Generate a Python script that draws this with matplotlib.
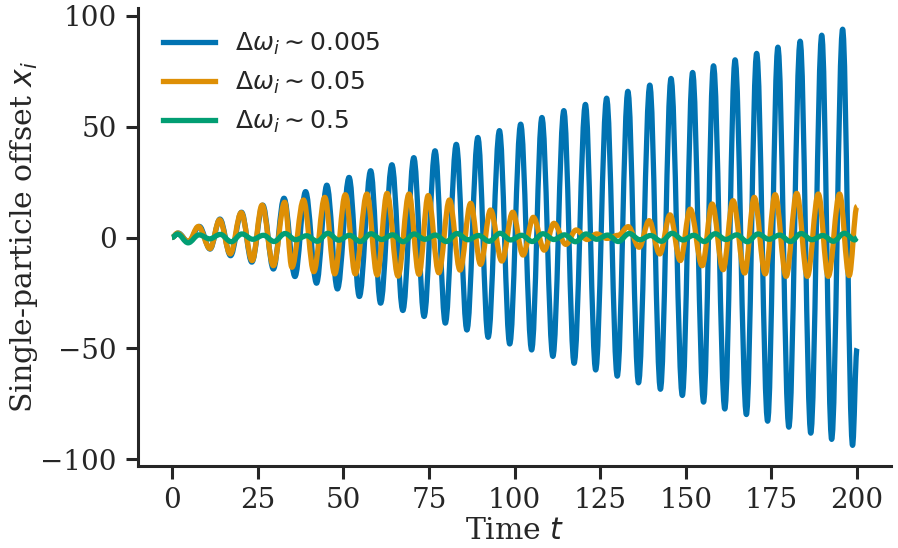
import matplotlib
matplotlib.use("Agg")
import matplotlib.pyplot as plt
from matplotlib.path import Path
from matplotlib.patches import PathPatch
from matplotlib.lines import Line2D

# Turning points (time, offset) of each single-particle trajectory
blue_t = [0.0, 1.8, 4.8, 8.0, 11.1, 14.0, 17.1, 20.3, 23.3, 26.5, 29.6, 32.7, 35.9,
          39.0, 42.2, 45.2, 48.3, 51.7, 54.7, 58.0, 60.9, 64.2, 67.4, 70.6, 73.6,
          76.8, 79.8, 83.0, 86.1, 89.3, 92.3, 95.6, 98.6, 101.8, 105.0, 108.0, 111.2,
          114.4, 117.4, 120.7, 123.7, 126.9, 130.0, 133.1, 136.2, 139.5, 142.6, 145.7,
          149.0, 152.0, 155.2, 158.1, 161.4, 164.4, 167.7, 170.7, 173.9, 176.9, 180.1,
          183.4, 186.5, 189.7, 192.6, 195.8, 198.7, 200.0]
blue_x = [0.0, 2.0, -2.0, 5.0, -5.2, 8.3, -8.2, 11.4, -11.1, 14.6, -14.2, 17.7, -17.6,
          20.7, -20.6, 23.6, -23.2, 27.1, -26.6, 30.1, -29.6, 32.8, -32.9, 36.0, -35.6,
          39.1, -38.6, 42.0, -41.7, 45.1, -45.0, 48.2, -48.0, 51.1, -50.7, 54.1, -53.6,
          57.2, -56.7, 60.0, -59.7, 62.8, -62.5, 65.9, -65.5, 68.7, -68.4, 71.7,
          -71.2, 74.4, -74.2, 77.4, -77.3, 80.1, -79.8, 83.0, -82.8, 85.8, -85.5,
          88.5, -88.2, 91.2, -91.0, 93.9, -93.7, -50.0]

orange_t = [0.0, 1.6, 4.8, 7.7, 11.1, 13.9, 17.0, 20.2, 23.4, 26.3, 29.6, 32.9, 35.0,
            38.4, 41.4, 44.6, 47.5, 50.6, 53.5, 56.9, 59.9, 62.8, 66.0, 69.2, 72.1,
            74.8, 77.9, 81.0, 84.1, 87.2, 90.1, 93.0, 96.3, 99.5, 102.5, 105.5, 108.7,
            111.5, 115.0, 118.0, 121.2, 124.0, 127.0, 130.3, 133.2, 136.4, 139.3,
            142.4, 145.4, 148.4, 151.3, 154.8, 157.7, 160.9, 163.8, 167.2, 170.0,
            173.2, 176.1, 179.3, 182.4, 185.5, 188.7, 191.6, 194.9, 197.7, 200.0]
orange_x = [0.0, 2.0, -1.8, 5.0, -5.0, 8.0, -7.4, 11.2, -10.4, 14.6, -12.7, 15.9, -13.4,
            16.9, -15.4, 18.1, -16.4, 19.3, -16.4, 19.6, -16.9, 19.9, -17.4, 19.6, -16.6,
            18.9, -15.9, 16.9, -14.7, 15.4, -12.1, 12.4, -10.6, 11.4, -7.9, 9.1, -5.7,
            6.4, -3.1, 3.4, -0.9, 1.6, -0.4, 1.0, 4.9, -4.4, 7.6, -7.4, 10.2, -10.4,
            12.8, -12.7, 15.1, -14.5, 16.6, -16.0, 18.1, -16.4, 19.3, -17.5, 19.9,
            -17.5, 19.6, -17.5, 19.6, -17.2, 14.0]

green_t = [0.0, 1.6, 4.7, 7.9, 11.0, 14.1, 17.3, 20.4, 23.6, 26.7, 29.8, 33.0, 36.1,
           39.3, 42.4, 45.5, 48.7, 51.8, 55.0, 58.1, 61.2, 64.4, 67.5, 70.7, 73.8,
           76.9, 80.1, 83.2, 86.4, 89.5, 92.6, 95.8, 98.9, 102.1, 105.2, 108.3, 111.5,
           114.6, 117.8, 120.9, 124.0, 127.2, 130.3, 133.5, 136.6, 139.7, 142.9, 146.0,
           149.2, 152.3, 155.4, 158.6, 161.7, 164.9, 168.0, 171.1, 174.3, 177.4, 180.6,
           183.7, 186.8, 190.0, 193.1, 196.3, 199.4, 200.0]
green_x = [0.0, 1.6, -2.4, 1.2, -0.6, 1.4, -1.9, 1.6, -0.8, 1.0, -1.8, 1.8, -1.0,
           0.8, -1.7, 1.9, -1.2, 1.0, -1.8, 1.7, -0.9, 1.2, -1.9, 1.6, -0.8, 1.1,
           -1.8, 1.8, -1.0, 0.9, -1.7, 1.9, -1.1, 1.0, -1.8, 1.7, -0.9, 1.2, -1.9,
           1.6, -0.8, 1.1, -1.8, 1.8, -1.0, 0.9, -1.7, 1.9, -1.1, 1.0, -1.8, 1.7,
           -0.9, 1.2, -1.9, 1.6, -0.8, 1.1, -1.8, 1.8, -1.0, 0.9, -1.7, 1.9, -1.1, 0.0]

labels = [r"$\Delta\omega_i \sim 0.005$", r"$\Delta\omega_i \sim 0.05$",
          r"$\Delta\omega_i \sim 0.5$"]
colors = ["#0173b2", "#de8f05", "#029e73"]
series = [(blue_t, blue_x), (orange_t, orange_x), (green_t, green_x)]

xticks = [0, 25, 50, 75, 100, 125, 150, 175, 200]
yticks = [-100, -50, 0, 50, 100]

plt.rcParams.update({
    "font.family": "serif",
    "font.serif": ["DejaVu Serif"],
    "mathtext.fontset": "dejavusans",
    "axes.unicode_minus": True,
})

LW = 3.8
INK = "#262626"


def smooth_path(ts, xs):
    """Cubic Bezier through successive turning points, flat at each extremum."""
    verts = [(ts[0], xs[0])]
    codes = [Path.MOVETO]
    for i in range(1, len(ts)):
        t0, x0, t1, x1 = ts[i - 1], xs[i - 1], ts[i], xs[i]
        h = (t1 - t0) * 0.3643
        verts += [(t0 + h, x0), (t1 - h, x1), (t1, x1)]
        codes += [Path.CURVE4] * 3
    return Path(verts, codes)


fig = plt.figure(figsize=(8.98, 5.48), dpi=100)
ax = fig.add_axes([0.1534, 0.1496, 0.8391, 0.836])

for (ts, xs), c in zip(series, colors):
    ax.add_patch(PathPatch(smooth_path(ts, xs), fill=False, edgecolor=c, lw=LW,
                           capstyle="butt", joinstyle="round"))

ax.set_xlim(-10, 210)
ax.set_ylim(-103, 103.5)
ax.set_xticks(xticks)
ax.set_yticks(yticks)

for side in ("top", "right"):
    ax.spines[side].set_visible(False)
for side in ("left", "bottom"):
    ax.spines[side].set_linewidth(2.2)
    ax.spines[side].set_color(INK)
ax.tick_params(axis="both", which="major", length=9, width=2.2, color=INK,
               labelsize=20, labelcolor=INK, pad=6)

ax.set_xlabel(r"Time $t$", fontsize=21.5, color=INK, labelpad=2)
ax.set_ylabel(r"Single-particle offset $x_i$", fontsize=21.5, color=INK, labelpad=0)

handles = [Line2D([], [], color=c, lw=LW) for c in colors]
leg = ax.legend(handles, labels, loc="upper left", frameon=False,
                prop={"family": "DejaVu Sans", "size": 18},
                handlelength=2.1, handletextpad=0.8, labelspacing=0.52,
                bbox_to_anchor=(0.003, 1.0))
for txt in leg.get_texts():
    txt.set_color(INK)

fig.savefig("out.png", dpi=100)
